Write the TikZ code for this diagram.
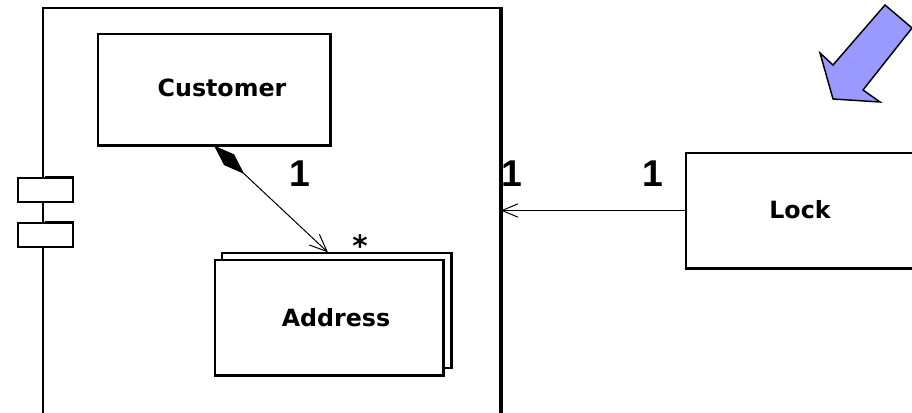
\documentclass[tikz,border=0pt]{standalone}
\usepackage{fontspec}
\setmainfont{Liberation Sans}
\newfontfamily\lblfont{DejaVu Sans}
\usetikzlibrary{arrows.meta}
\definecolor{arrowblue}{HTML}{9999FF}
\tikzset{
  box/.style={draw=black, line width=0.9pt, fill=white, inner sep=0pt},
  shade/.style={line width=1.8pt},
  lbl/.style={font=\lblfont\bfseries\fontsize{17.8}{19}\selectfont, inner sep=0pt},
  mult/.style={font=\bfseries\fontsize{28}{30}\selectfont, inner sep=0pt},
  conn/.style={line width=0.75pt}
}
\begin{document}
\begin{tikzpicture}[x=0.75pt,y=-0.75pt]
\useasboundingbox (0,0) rectangle (912,413);
\clip (0,0) rectangle (912,413);
% component
\node[box, line width=1.1pt, minimum width=342.75pt, minimum height=316.5pt] (comp) at (271.5,219) {};
\draw[shade] ([xshift=0.6pt]comp.north east) -- ([xshift=0.6pt]comp.south east);
% ports
\node[box, line width=1.5pt, minimum width=41.25pt, minimum height=18pt] (port1) at (45,190) {};
\node[box, line width=1.5pt, minimum width=41.25pt, minimum height=18pt] (port2) at (45,235) {};
\draw[shade] (port1.north) -- (port1.north east);
\draw[shade] (port2.north) -- (port2.north east);
% customer
\node[box, minimum width=174pt, minimum height=83.25pt] (cust) at (214,89.5) {};
\draw[shade] ([xshift=0.5pt]cust.north east) -- ([xshift=0.5pt,yshift=-0.5pt]cust.south east) -- ([yshift=-0.5pt]cust.south west);
\node[lbl] (custtxt) at (222,88) {Customer};
% address (multi-object)
\node[box, minimum width=171.75pt, minimum height=86.25pt] (addrback) at (336.5,310.5) {};
\draw[shade] ([xshift=0.5pt]addrback.north east) -- ([xshift=0.5pt]addrback.south east);
\node[box, minimum width=171pt, minimum height=86.25pt] (addr) at (329,317.5) {};
\draw[shade] ([xshift=0.5pt]addr.north east) -- ([xshift=0.5pt,yshift=-0.5pt]addr.south east) -- ([yshift=-0.5pt]addr.south west);
\node[lbl] (addrtxt) at (336,318) {Address};
% lock
\node[box, minimum width=175.5pt, minimum height=86.25pt] (lock) at (803,210.5) {};
\draw[shade] ([yshift=-0.5pt]lock.south west) -- ([yshift=-0.5pt]lock.south east);
\node[lbl] (locktxt) at (800,210) {Lock};
% composition
\coordinate (compend) at ([xshift=-6.4pt]addrback.north);
\draw[conn, {Diamond[length=31pt,width=11pt]}-{Straight Barb[length=13pt,width=11pt,line width=0.75pt]}] (cust.south) -- (compend);
% lock association
\draw[conn, -{Straight Barb[length=12pt,width=10pt,line width=0.75pt]}] (lock.west) -- (lock.west -| comp.east);
% multiplicities
\node[mult] (m1) at (300,174) {1};
\node[mult] (m2) at (512,174) {1};
\node[mult] (m3) at (653,174) {1};
\node[font=\lblfont\bfseries\fontsize{22}{22}\selectfont, inner sep=0pt, anchor=north] (star) at (360,234) {*};
% blue arrow
\draw[fill=arrowblue, line width=1.1pt, line join=miter] (885,5) -- (912,28) -- (863,90) -- (880,102) -- (833,99) -- (820,53) -- (833,65) -- cycle;
\end{tikzpicture}
\end{document}
